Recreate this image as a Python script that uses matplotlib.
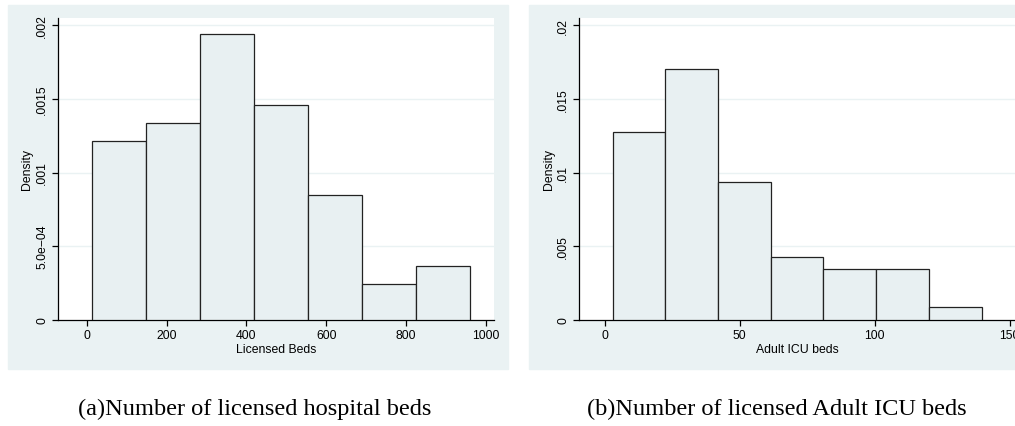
import numpy as np
import matplotlib.pyplot as plt
from matplotlib.patches import Rectangle

# histogram data (density per bin)
beds_edges = [13, 148, 283, 419, 554, 689, 825, 960]
beds_density = [0.001214, 0.001336, 0.001941, 0.001456, 0.000848, 0.000245, 0.000365]
beds_yticks = [0, 0.0005, 0.001, 0.0015, 0.002]
beds_ylabels = ["0", "5.0e\u221204", ".001", ".0015", ".002"]
beds_xticks = [0, 200, 400, 600, 800, 1000]

icu_edges = [2.9, 22.4, 42.0, 61.5, 81.0, 100.6, 120.1, 139.7]
icu_density = [0.01275, 0.01701, 0.00937, 0.00427, 0.00343, 0.00343, 0.00086]
icu_yticks = [0, 0.005, 0.01, 0.015, 0.02]
icu_ylabels = ["0", ".005", ".01", ".015", ".02"]
icu_xticks = [0, 50, 100, 150]

BG = "#eaf2f3"
BAR = "#e8f0f2"

plt.rcParams["font.family"] = ["Liberation Sans", "DejaVu Sans"]

fig = plt.figure(figsize=(10.15, 4.27), dpi=100)

# stata style outer panel backgrounds (behind the axes)
W, H = 1015, 427
fig.patches.append(Rectangle((8 / W, 1 - 370 / H), 500 / W, 364 / H,
                             transform=fig.transFigure, color=BG, zorder=-10))
fig.patches.append(Rectangle((529 / W, 1 - 370 / H), 500 / W, 364 / H,
                             transform=fig.transFigure, color=BG, zorder=-10))


def draw_hist(ax, edges, dens, yticks, ylabels, xticks, xlim, ylim, xlabel):
    edges = np.array(edges)
    ax.bar(edges[:-1], dens, width=np.diff(edges), align="edge",
           color=BAR, edgecolor="#222222", linewidth=0.9, zorder=3)
    ax.set_xlim(*xlim)
    ax.set_ylim(*ylim)
    ax.set_yticks(yticks)
    ax.set_yticklabels(ylabels, rotation=90, va="center")
    ax.set_xticks(xticks)
    for t in yticks[1:]:
        ax.axhline(t, color=BG, linewidth=1.0, zorder=1)
    for side in ["top", "right"]:
        ax.spines[side].set_visible(False)
    for side in ["left", "bottom"]:
        ax.spines[side].set_linewidth(0.9)
    ax.tick_params(direction="out", length=4, width=0.9, labelsize=8.8, pad=3)
    ax.set_xlabel(xlabel, fontsize=8.8, labelpad=1)
    ax.set_ylabel("Density", fontsize=8.8, labelpad=2)
    ax.set_facecolor("white")


ax1 = fig.add_axes([58 / W, 1 - 320.7 / H, 436 / W, 301.7 / H])
draw_hist(ax1, beds_edges, beds_density, beds_yticks, beds_ylabels, beds_xticks,
          (-72, 1020), (0, 0.00205), "Licensed Beds")

ax2 = fig.add_axes([579 / W, 1 - 320.7 / H, 436 / W, 301.7 / H])
draw_hist(ax2, icu_edges, icu_density, icu_yticks, icu_ylabels, icu_xticks,
          (-9.6, 152), (0, 0.0205), "Adult ICU beds")

cap = dict(fontsize=17.6, family=["Liberation Serif", "DejaVu Serif"],
           ha="center", va="center")
fig.text(255 / W, 1 - 409 / H, "(a)Number of licensed hospital beds", **cap)
fig.text(777 / W, 1 - 409 / H, "(b)Number of licensed Adult ICU beds", **cap)

fig.savefig("out.png", dpi=100)
